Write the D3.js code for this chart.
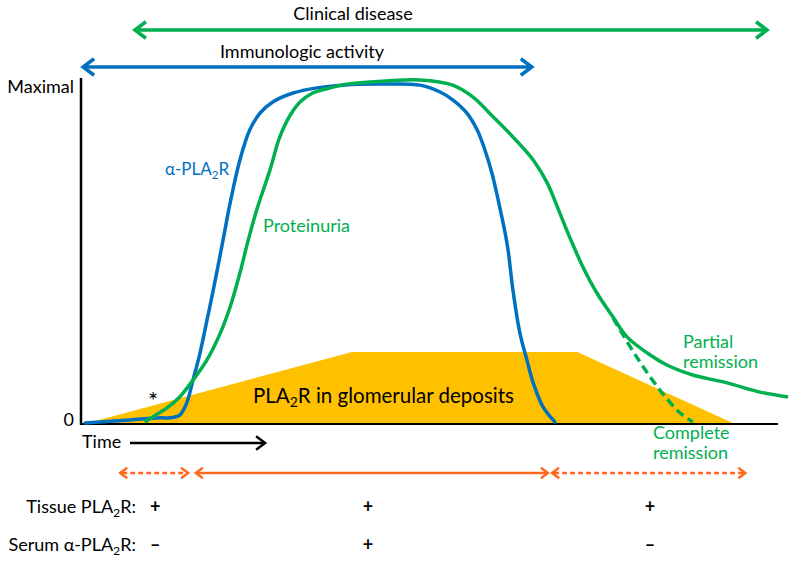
<!DOCTYPE html>
<html><head><meta charset="utf-8">
<script src="https://cdn.jsdelivr.net/npm/d3@7/dist/d3.min.js"></script>
<style>
html,body{margin:0;padding:0;background:#fff;}
svg{display:block;font-family:Lato, "Open Sans", sans-serif;}
</style></head>
<body>
<svg id="chart" width="800" height="562"></svg>
<script>
// ---- data (arbitrary time units 0..100, level 0..100 = Maximal) ----
const antibodyTime  = [0.6,7.0,11.3,12.7,14.1,15.1,16.0,17.0,18.0,18.9,20.3,21.3,22.7,24.1,25.6,27.4,30.3,33.7,37.4,42.7,48.4,51.3,53.1,55.1,56.6,57.7,58.7,59.6,60.9,61.7,62.7,63.7,64.6,66.0,67.7];
const antibodyLevel = [0,0.9,1.5,1.5,2.3,5.8,12.5,20.4,30.0,38.8,53.4,64.1,76.7,85.4,90.4,93.6,96.2,97.7,98.5,98.8,98.5,96.5,94.2,90.4,85.4,79.6,72.9,65.0,51.9,38.8,26.2,18.4,11.7,4.7,0.3];
const proteinuriaTime  = [9.1,10.9,12.3,14.1,16.0,18.0,19.9,21.3,22.7,23.9,25.1,27.0,28.4,29.9,31.3,33.1,35.6,38.0,41.3,48.4,53.1,56.0,58.9,61.7,64.6,66.6,68.4,70.1,71.7,73.7,76.0,78.0,80.9,83.7,87.4,92.3,97.0,101.0];
const proteinuriaLevel = [0.3,2.6,4.4,7.6,12.5,18.4,26.2,33.8,43.7,53.4,62.1,73.8,83.4,89.8,93.6,96.2,97.7,98.8,99.4,100,98.5,95.0,89.2,83.4,76.7,70.0,61.2,52.8,45.5,37.9,30.9,25.1,20.4,16.9,14.0,11.7,9.0,7.6];
const completeRemissionTime  = [76.0,79.4,82.7,85.6,87.4];
const completeRemissionLevel = [30.6,19.2,9.6,2.9,0.3];
const depositTime  = [1.0,38.7,70.9,93.1];
const depositLevel = [0,20.7,20.7,0];
const yTickLabels = ["0","Maximal"];
const yTickValues = [0,100];
const clinicalDiseaseSpan   = [7.7,98];
const immunologicSpan       = [0.3,64.4];
const timeArrowSpan         = [7,26.3];
const phaseSpans  = [[5.6,15.3],[16.4,66.7],[67.3,94.9]];
const phaseDashed = [true,false,true];
const phaseCenters = [10.6,41,81.3];
const tissueSigns = ["+","+","+"];
const serumSigns  = ["\u2013","+","\u2013"];

// ---- colours ----
const GREEN="#00b050", BLUE="#0070c0", GOLD="#ffc000", ORANGE="#ff6a1f";

const svg = d3.select("#chart");
const x = d3.scaleLinear().domain([0,100]).range([81,781]);
const y = d3.scaleLinear().domain([0,100]).range([423,80]);

function sub(g, pre, after, attrs){
  const t = g.append("text");
  Object.entries(attrs).forEach(([k,v])=>t.attr(k,v));
  t.append("tspan").text(pre);
  t.append("tspan").text("2").attr("font-size","0.68em").attr("dy","0.32em");
  t.append("tspan").text(after).attr("dy","-0.22em");
  return t;
}
function arrow(g, x1, x2, yy, color, w, dashed, head, both){
  const line = g.append("line").attr("x1",x1+(both?2:0)).attr("x2",x2-2).attr("y1",yy).attr("y2",yy)
    .attr("stroke",color).attr("stroke-width",w);
  if(dashed) line.attr("stroke-dasharray","5,3");
  const hp = (xt,dir)=>`M${xt-dir*head},${yy-head*0.75}L${xt},${yy}L${xt-dir*head},${yy+head*0.75}`;
  g.append("path").attr("d",hp(x2,1)).attr("fill","none").attr("stroke",color).attr("stroke-width",w);
  if(both) g.append("path").attr("d",hp(x1,-1)).attr("fill","none").attr("stroke",color).attr("stroke-width",w);
}

// deposits area
const pts = depositTime.map((t,i)=>[x(t),y(depositLevel[i])]);
svg.append("path").attr("d", d3.line()(pts)+"Z").attr("fill",GOLD);

// axes
const axisG = svg.append("g");
axisG.append("line").attr("x1",x(0)).attr("x2",x(0)).attr("y1",y(100)-2).attr("y2",y(0)+1.5).attr("stroke","#000").attr("stroke-width",2.5);
axisG.append("line").attr("x1",x(0)-1).attr("x2",778).attr("y1",y(0)+1).attr("y2",y(0)+1).attr("stroke","#000").attr("stroke-width",2.2);
axisG.selectAll("text.yt").data(yTickValues).join("text").attr("class","yt")
  .attr("x",x(0)-7).attr("y",d=>d===0?y(d)+3:y(d)+13).attr("text-anchor","end")
  .attr("font-size",18).attr("fill","#000").text((d,i)=>yTickLabels[i]);

// curves
const line = d3.line().x(d=>x(d[0])).y(d=>y(d[1])).curve(d3.curveCatmullRom.alpha(0.5));
svg.append("path").attr("d", line(antibodyTime.map((t,i)=>[t,antibodyLevel[i]])))
  .attr("fill","none").attr("stroke",BLUE).attr("stroke-width",3.5).attr("stroke-linecap","round");
svg.append("path").attr("d", line(proteinuriaTime.map((t,i)=>[t,proteinuriaLevel[i]])))
  .attr("fill","none").attr("stroke",GREEN).attr("stroke-width",3.5);
svg.append("path").attr("d", line(completeRemissionTime.map((t,i)=>[t,completeRemissionLevel[i]])))
  .attr("fill","none").attr("stroke",GREEN).attr("stroke-width",3.5).attr("stroke-dasharray","9,5");

// top arrows
arrow(svg, x(clinicalDiseaseSpan[0]), x(clinicalDiseaseSpan[1]), 30, GREEN, 3.5, false, 11, true);
svg.append("text").attr("x",353).attr("y",20).attr("text-anchor","middle").attr("font-size",18).text("Clinical disease");
arrow(svg, x(immunologicSpan[0]), x(immunologicSpan[1]), 67, BLUE, 3.5, false, 11, true);
svg.append("text").attr("x",302).attr("y",58).attr("text-anchor","middle").attr("font-size",18).text("Immunologic activity");

// time arrow
svg.append("text").attr("x",82).attr("y",448).attr("font-size",18).text("Time");
arrow(svg, x(timeArrowSpan[0]), x(timeArrowSpan[1]), 443, "#000", 2.5, false, 9, false);

// in-chart labels
sub(svg, "\u03b1-PLA", "R", {x:165,y:175,"font-size":17,fill:BLUE});
svg.append("text").attr("x",263).attr("y",232).attr("font-size",18).attr("fill",GREEN).text("Proteinuria");
svg.append("text").attr("x",683).attr("y",348).attr("font-size",18).attr("fill",GREEN).text("Partial");
svg.append("text").attr("x",683).attr("y",368).attr("font-size",18).attr("fill",GREEN).text("remission");
svg.append("text").attr("x",653).attr("y",439).attr("font-size",18).attr("fill",GREEN).text("Complete");
svg.append("text").attr("x",653).attr("y",459).attr("font-size",18).attr("fill",GREEN).text("remission");
svg.append("text").attr("x",153).attr("y",409).attr("text-anchor","middle").attr("font-size",24).text("*");
sub(svg, "PLA", "R in glomerular deposits", {x:253,y:403,"font-size":20.5,fill:"#000"});

// phase arrows
phaseSpans.forEach((s,i)=>arrow(svg, x(s[0]), x(s[1]), 473, ORANGE, 2.5, phaseDashed[i], 7, true));

// status rows
sub(svg, "Tissue PLA", "R:", {x:136,y:513,"text-anchor":"end","font-size":18,fill:"#000"});
sub(svg, "Serum \u03b1-PLA", "R:", {x:136,y:551,"text-anchor":"end","font-size":18,fill:"#000"});
svg.selectAll("text.ts").data(tissueSigns).join("text").attr("class","ts")
  .attr("x",(d,i)=>x(phaseCenters[i])).attr("y",513).attr("text-anchor","middle").attr("font-size",18).attr("font-weight","bold").text(d=>d);
svg.selectAll("text.ss").data(serumSigns).join("text").attr("class","ss")
  .attr("x",(d,i)=>x(phaseCenters[i])).attr("y",551).attr("text-anchor","middle").attr("font-size",18).attr("font-weight","bold").text(d=>d);
</script>
</body></html>
